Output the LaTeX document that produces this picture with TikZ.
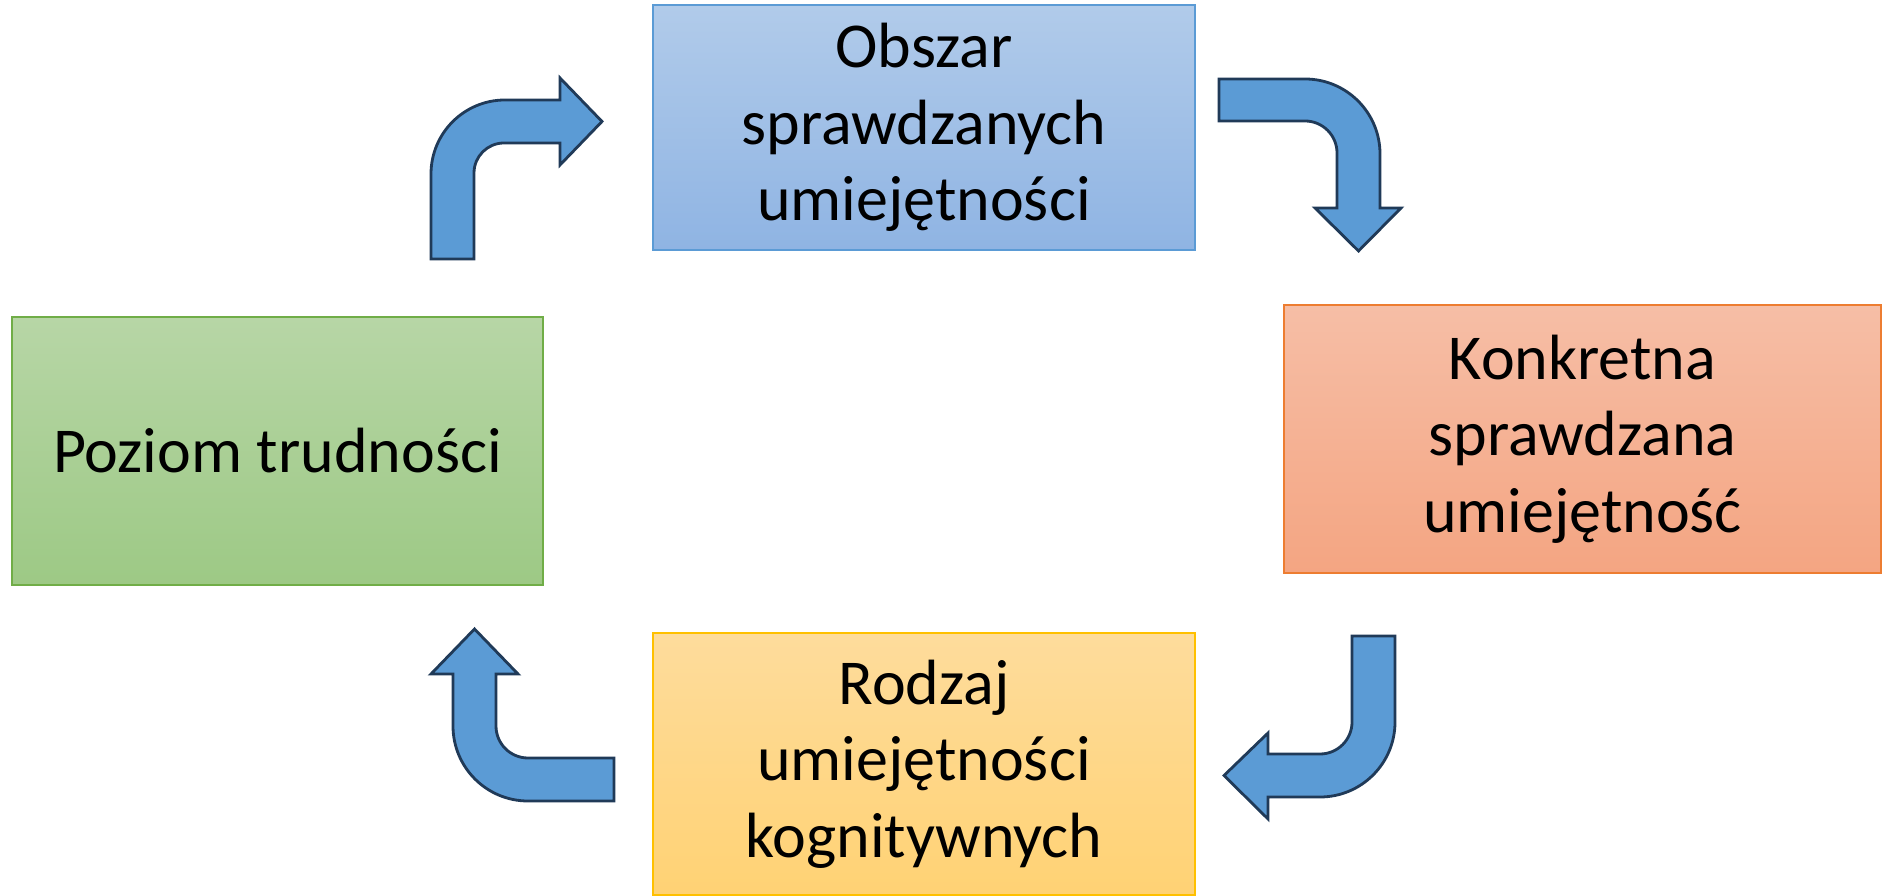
\documentclass[tikz,border=0pt]{standalone}
\usepackage{fontspec}
\setmainfont{Carlito}
\definecolor{cArrow}{HTML}{5B9BD5}
\definecolor{cArrowLine}{HTML}{203A58}
\definecolor{cBlueTop}{HTML}{B1CBEA}
\definecolor{cBlueBot}{HTML}{8FB4E3}
\definecolor{cBlueLine}{HTML}{5B9BD5}
\definecolor{cGreenTop}{HTML}{B7D6A6}
\definecolor{cGreenBot}{HTML}{9DC985}
\definecolor{cGreenLine}{HTML}{70AD47}
\definecolor{cOrangeTop}{HTML}{F6BEA6}
\definecolor{cOrangeBot}{HTML}{F4A582}
\definecolor{cOrangeLine}{HTML}{ED7D31}
\definecolor{cYellowTop}{HTML}{FEDC9C}
\definecolor{cYellowBot}{HTML}{FFD274}
\definecolor{cYellowLine}{HTML}{FFC000}
\tikzset{
  box/.style={rectangle, inner sep=0pt, align=center, line width=0.5pt,
    font=\fontsize{18.2}{21.8}\selectfont},
  bent/.style={fill=cArrow, draw=cArrowLine, line width=0.8pt, line join=miter}
}

\begin{document}
\begin{tikzpicture}
		\useasboundingbox (0,0) rectangle (18.83,8.95);
		\node [box, draw=cBlueLine, top color=cBlueTop, bottom color=cBlueBot, minimum width=5.42cm, minimum height=2.45cm] (obszar) at (9.24,7.675) {Obszar\\sprawdzanych\\umiejętności};
		\node [box, draw=cOrangeLine, top color=cOrangeTop, bottom color=cOrangeBot, minimum width=5.97cm, minimum height=2.68cm] (konkretna) at (15.825,4.56) {Konkretna\\sprawdzana\\umiejętność};
		\node [box, draw=cYellowLine, top color=cYellowTop, bottom color=cYellowBot, minimum width=5.42cm, minimum height=2.62cm] (rodzaj) at (9.24,1.31) {Rodzaj\\umiejętności\\kognitywnych};
		\node [box, draw=cGreenLine, top color=cGreenTop, bottom color=cGreenBot, minimum width=5.31cm, minimum height=2.68cm] (poziom) at (2.775,4.44) {Poziom trudności};
		% up, then right
		\draw [bent] (4.31,6.36) -- (4.31,7.21) arc[start angle=180, end angle=90, radius=0.74] -- (5.60,7.95) -- (5.60,8.17) -- (6.02,7.735) -- (5.60,7.30) -- (5.60,7.52) -- (5.04,7.52) arc[start angle=90, end angle=180, radius=0.30] -- (4.74,6.36) -- cycle;
		% right, then down
		\draw [bent] (12.19,8.16) -- (13.05,8.16) arc[start angle=90, end angle=0, radius=0.75] -- (13.80,6.87) -- (14.01,6.87) -- (13.585,6.44) -- (13.15,6.87) -- (13.37,6.87) -- (13.37,7.42) arc[start angle=0, end angle=90, radius=0.32] -- (12.19,7.74) -- cycle;
		% down, then left
		\draw [bent] (13.52,2.59) -- (13.95,2.59) -- (13.95,1.73) arc[start angle=0, end angle=-90, radius=0.75] -- (12.68,0.98) -- (12.68,0.76) -- (12.24,1.195) -- (12.68,1.62) -- (12.68,1.41) -- (13.20,1.41) arc[start angle=-90, end angle=0, radius=0.32] -- cycle;
		% left, then up
		\draw [bent] (6.14,1.37) -- (6.14,0.94) -- (5.28,0.94) arc[start angle=-90, end angle=-180, radius=0.75] -- (4.53,2.21) -- (4.31,2.21) -- (4.745,2.66) -- (5.18,2.21) -- (4.96,2.21) -- (4.96,1.69) arc[start angle=180, end angle=270, radius=0.32] -- cycle;
\end{tikzpicture}
\end{document}
